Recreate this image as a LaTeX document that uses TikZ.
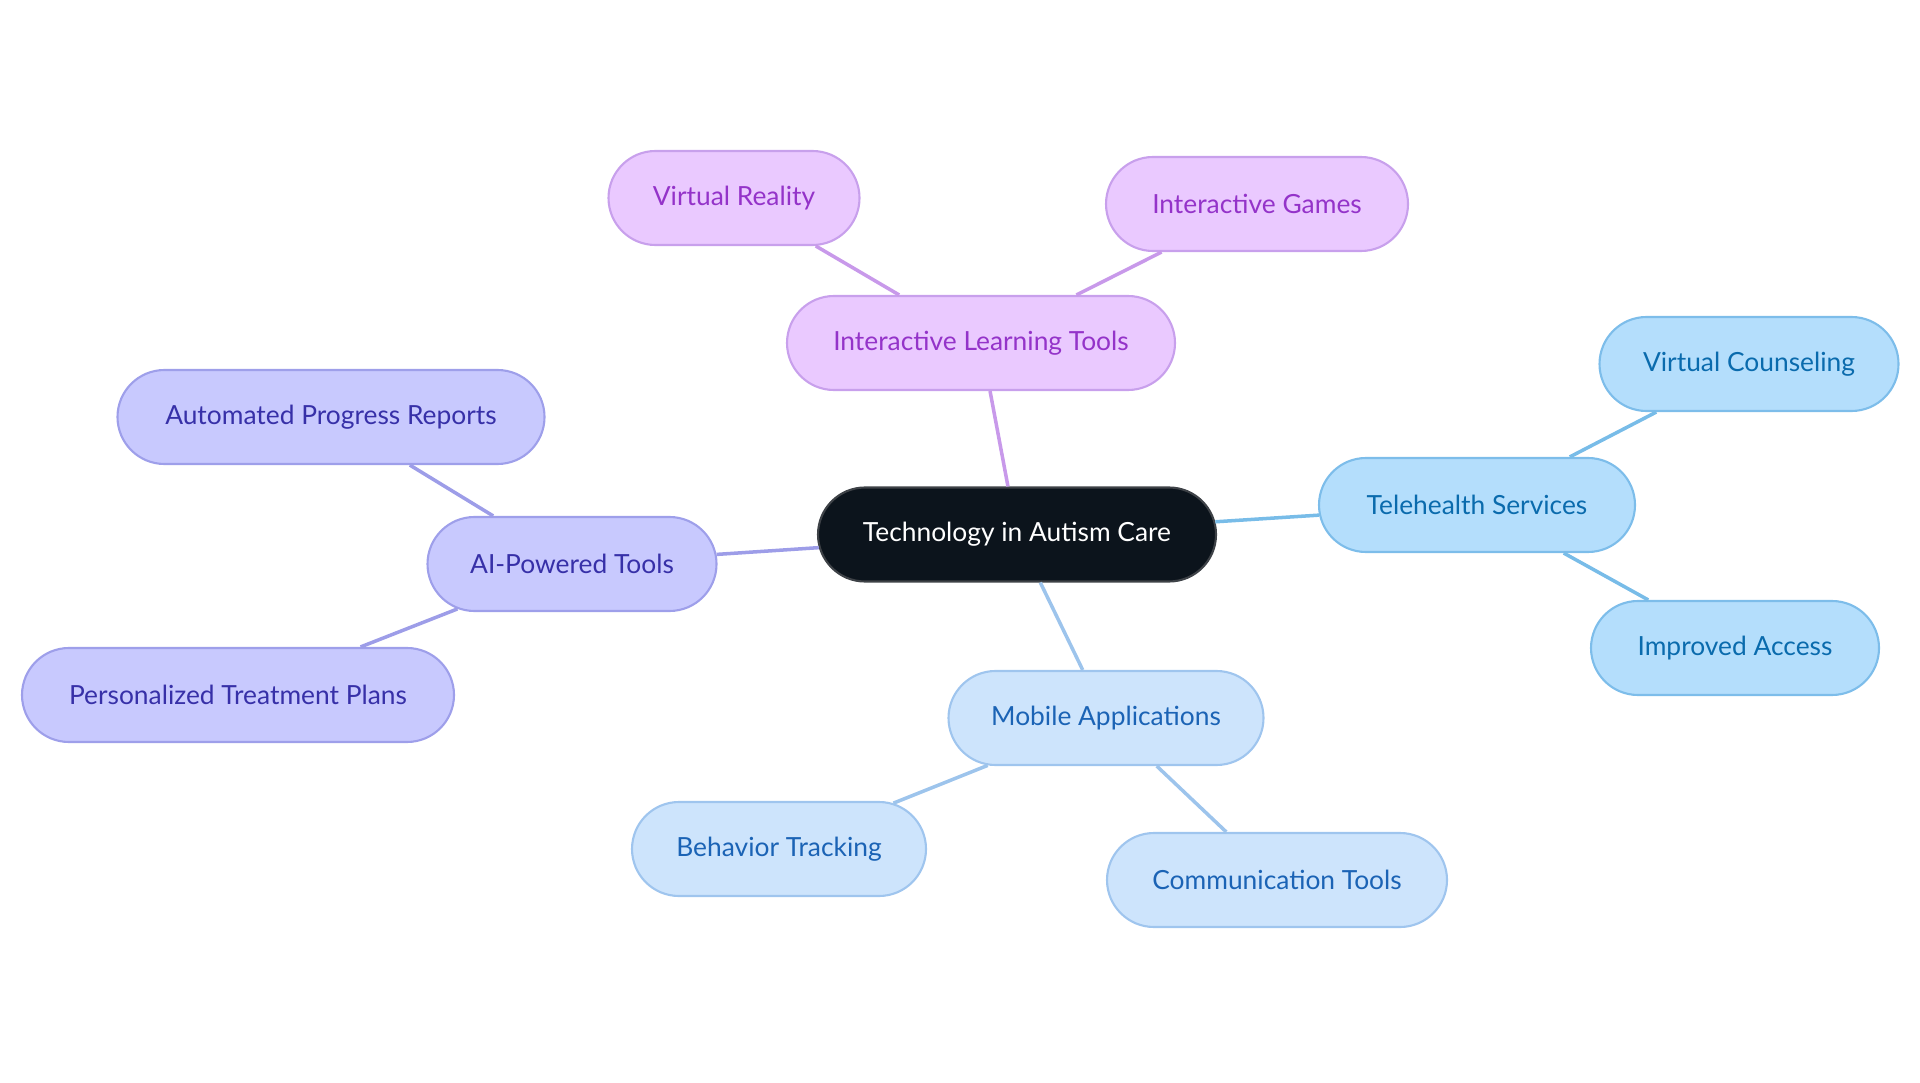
\documentclass[tikz,border=0pt]{standalone}
\usepackage{fontspec}
\setmainfont{Lato}
\usepackage{xcolor}
\usetikzlibrary{shapes.misc}

\definecolor{rootfill}{HTML}{0C141C}
\definecolor{rootdraw}{HTML}{3E4247}
\definecolor{learnfill}{HTML}{EAC9FF}
\definecolor{learndraw}{HTML}{C8A0EC}
\definecolor{learntext}{HTML}{9433C9}
\definecolor{learnline}{HTML}{C899EA}
\definecolor{aifill}{HTML}{C8C9FE}
\definecolor{aidraw}{HTML}{9E9FEA}
\definecolor{aitext}{HTML}{3730A8}
\definecolor{ailine}{HTML}{9D9DE8}
\definecolor{telefill}{HTML}{B4DEFC}
\definecolor{teledraw}{HTML}{7DBDEA}
\definecolor{teletext}{HTML}{0A6BAD}
\definecolor{teleline}{HTML}{78BCE8}
\definecolor{mobilefill}{HTML}{CDE4FC}
\definecolor{mobiledraw}{HTML}{9FC5EE}
\definecolor{mobiletext}{HTML}{1B63B5}
\definecolor{mobileline}{HTML}{9DC4EC}

\begin{document}
\begin{tikzpicture}[auto]
        \tikzstyle{block} = [rounded rectangle, draw, line width=0.6pt, minimum height=0.94cm, inner xsep=0pt, font=\fontsize{7.5}{8}\selectfont]
        \tikzstyle{root} = [block, fill=rootfill, draw=rootdraw, text=white]
        \tikzstyle{learning} = [block, fill=learnfill, draw=learndraw, text=learntext]
        \tikzstyle{ai} = [block, fill=aifill, draw=aidraw, text=aitext]
        \tikzstyle{tele} = [block, fill=telefill, draw=teledraw, text=teletext]
        \tikzstyle{mobile} = [block, fill=mobilefill, draw=mobiledraw, text=mobiletext]
        \tikzstyle{line} = [draw, line width=1pt]

    \useasboundingbox (0,0) rectangle (19.2,-10.83);

    \node [root, minimum width=3.98cm] (autism_care) at (10.17,-5.345) {Technology in Autism Care};

    \node [learning, minimum width=3.88cm] (learning_tools) at (9.81,-3.43) {Interactive Learning Tools};
    \node [learning, minimum width=2.51cm] (virtual_reality) at (7.34,-1.98) {Virtual Reality};
    \node [learning, minimum width=3.02cm] (interactive_games) at (12.57,-2.04) {Interactive Games};

    \node [tele, minimum width=3.16cm] (telehealth) at (14.77,-5.05) {Telehealth Services};
    \node [tele, minimum width=2.99cm] (virtual_counseling) at (17.49,-3.64) {Virtual Counseling};
    \node [tele, minimum width=2.88cm] (improved_access) at (17.35,-6.48) {Improved Access};

    \node [ai, minimum width=2.89cm] (ai_tools) at (5.72,-5.64) {AI-Powered Tools};
    \node [ai, minimum width=4.27cm] (progress_reports) at (3.31,-4.17) {Automated Progress Reports};
    \node [ai, minimum width=4.32cm] (treatment_plans) at (2.38,-6.95) {Personalized Treatment Plans};

    \node [mobile, minimum width=3.15cm] (mobile_apps) at (11.06,-7.18) {Mobile Applications};
    \node [mobile, minimum width=2.94cm] (behavior_tracking) at (7.79,-8.49) {Behavior Tracking};
    \node [mobile, minimum width=3.40cm] (communication_tools) at (12.77,-8.80) {Communication Tools};

    \path [line, learnline] (autism_care) -- (learning_tools);
    \path [line, learnline] (learning_tools) -- (virtual_reality);
    \path [line, learnline] (learning_tools) -- (interactive_games);

    \path [line, teleline] (autism_care) -- (telehealth);
    \path [line, teleline] (telehealth) -- (virtual_counseling);
    \path [line, teleline] (telehealth) -- (improved_access);

    \path [line, ailine] (autism_care) -- (ai_tools);
    \path [line, ailine] (ai_tools) -- (progress_reports);
    \path [line, ailine] (ai_tools) -- (treatment_plans);

    \path [line, mobileline] (autism_care) -- (mobile_apps);
    \path [line, mobileline] (mobile_apps) -- (behavior_tracking);
    \path [line, mobileline] (mobile_apps) -- (communication_tools);

    \end{tikzpicture}
\end{document}
